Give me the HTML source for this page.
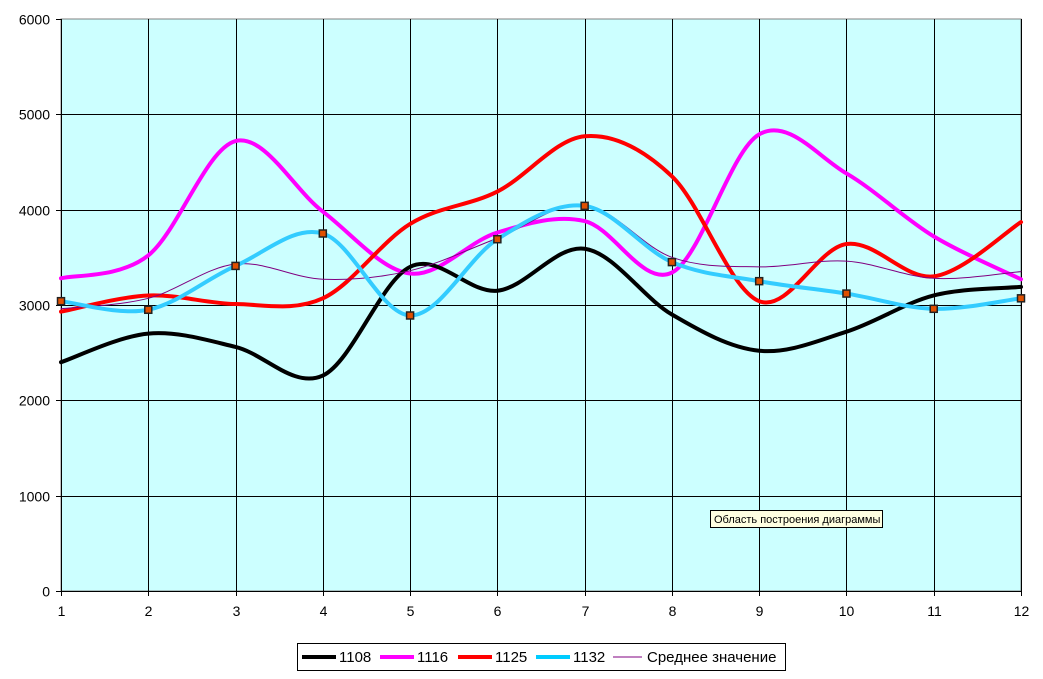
<!DOCTYPE html>
<html><head><meta charset="utf-8"><style>
body{margin:0;background:#fff;width:1043px;height:674px;overflow:hidden;font-family:"Liberation Sans",sans-serif}
</style></head><body>
<svg id="s" width="1043" height="674" xmlns="http://www.w3.org/2000/svg" font-family="Liberation Sans, sans-serif">
<rect x="61" y="19" width="960" height="572" fill="#ccffff" stroke="#808080"/>
<g id="grid" stroke="#000" stroke-width="1"></g>
<g id="lab" font-size="14" fill="#000"></g>
<g id="ser" fill="none" stroke-linejoin="round" stroke-linecap="round"></g>
<g id="mk"></g>
<rect x="710.5" y="510.5" width="172" height="17" fill="#ffffe1" stroke="#000"/>
<text x="714" y="523" font-size="11">Область построения диаграммы</text>
<rect x="297.5" y="643.5" width="488" height="27" fill="#fff" stroke="#000"/>
<g font-size="15">
<line x1="302" y1="657" x2="336" y2="657" stroke="#000" stroke-width="4"/><text x="339" y="662">1108</text>
<line x1="380" y1="657" x2="414" y2="657" stroke="#ff00ff" stroke-width="4"/><text x="417" y="662">1116</text>
<line x1="458" y1="657" x2="492" y2="657" stroke="#ff0000" stroke-width="4"/><text x="495" y="662">1125</text>
<line x1="536" y1="657" x2="570" y2="657" stroke="#00ccff" stroke-width="4"/><text x="573" y="662">1132</text>
<line x1="613" y1="657" x2="642" y2="657" stroke="#800080" stroke-width="1"/><text x="647" y="662">Среднее значение</text>
</g>
</svg>
<script>
var X0=61,W=960,Y0=591,H=572,NS="http://www.w3.org/2000/svg";
function px(i){return X0+i*W/11}function py(v){return Y0-v*H/6000}
function el(p,t,a,txt){var e=document.createElementNS(NS,t);for(var k in a)e.setAttribute(k,a[k]);if(txt!=null)e.textContent=txt;document.getElementById(p).appendChild(e);return e}
for(var i=0;i<12;i++){var x=Math.round(px(i))+.5;el("grid","line",{x1:x,y1:19,x2:x,y2:596});el("lab","text",{x:x,y:616,"text-anchor":"middle"},i+1)}
for(var j=0;j<=6;j++){var y=Math.round(py(j*1000))+.5;el("grid","line",{x1:56,y1:y,x2:j==6?61:1021,y2:y});el("lab","text",{x:50,y:y+5,"text-anchor":"end"},j*1000)}
var S=[
["#ff00ff",4,[3280,3520,4720,3980,3330,3760,3880,3340,4790,4380,3720,3270]],
["#ff0000",4,[2930,3100,3010,3070,3850,4190,4770,4350,3040,3640,3300,3870]],
["#000",4,[2400,2700,2560,2260,3400,3150,3590,2900,2520,2720,3100,3190]],
["#800080",1,[2960,3070,3430,3270,3360,3700,4050,3500,3400,3460,3280,3350]],
["#33ccff",4,[3040,2950,3410,3750,2890,3690,4040,3450,3250,3120,2960,3070]]];
S.forEach(function(s){var p=s[2].map(function(v,i){return[px(i),py(v)]});var d="M"+p[0];
for(var i=0;i<p.length-1;i++){var a=p[Math.max(0,i-1)],b=p[i],c=p[i+1],e=p[Math.min(p.length-1,i+2)],t=1/6;
d+="C"+(b[0]+(c[0]-a[0])*t)+","+(b[1]+(c[1]-a[1])*t)+" "+(c[0]-(e[0]-b[0])*t)+","+(c[1]-(e[1]-b[1])*t)+" "+c[0]+","+c[1]}
el("ser","path",{d:d,stroke:s[0],"stroke-width":s[1]})});
S[4][2].forEach(function(v,i){el("mk","rect",{x:px(i)-3.5,y:py(v)-3.5,width:7,height:7,fill:"#e05000",stroke:"#222","stroke-width":1.5})});
</script>
</body></html>
